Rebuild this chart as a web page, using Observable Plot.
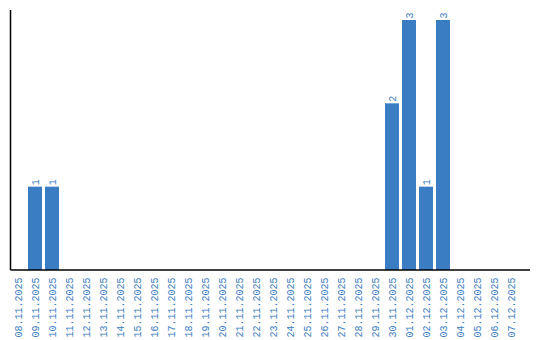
<!DOCTYPE html>
<html>
<head>
<meta charset="utf-8">
<script src="https://cdn.jsdelivr.net/npm/d3@7"></script>
<script src="https://cdn.jsdelivr.net/npm/@observablehq/plot@0.6"></script>
<style>
  html, body { margin: 0; padding: 0; background: #fff; }
  #chart svg { display: block; }
</style>
</head>
<body>
<div id="chart"></div>
<script>
const dates = [
  "08.11.2025","09.11.2025","10.11.2025","11.11.2025","12.11.2025","13.11.2025",
  "14.11.2025","15.11.2025","16.11.2025","17.11.2025","18.11.2025","19.11.2025",
  "20.11.2025","21.11.2025","22.11.2025","23.11.2025","24.11.2025","25.11.2025",
  "26.11.2025","27.11.2025","28.11.2025","29.11.2025","30.11.2025","01.12.2025",
  "02.12.2025","03.12.2025","04.12.2025","05.12.2025","06.12.2025","07.12.2025"
];
const counts = [
  0,1,1,0,0,0,
  0,0,0,0,0,0,
  0,0,0,0,0,0,
  0,0,0,0,2,3,
  1,3,0,0,0,0
];
const yMax = 3.12;

const data = dates.map((d, i) => ({date: d, count: counts[i]}));
const nonZero = data.filter(d => d.count > 0);

const blue = "#3b7dc3";
const font = "'Liberation Mono', 'DejaVu Sans Mono', monospace";

const axisLines = (index, scales, values, dims) => {
  const g = d3.create("svg:g");
  const x0 = dims.marginLeft - 0.5;
  const yb = dims.height - dims.marginBottom;
  g.append("line")
    .attr("x1", x0).attr("x2", x0)
    .attr("y1", dims.marginTop).attr("y2", yb)
    .attr("stroke", "#000").attr("stroke-width", 1.5);
  g.append("line")
    .attr("x1", x0).attr("x2", dims.width - dims.marginRight)
    .attr("y1", yb).attr("y2", yb)
    .attr("stroke", "#000").attr("stroke-width", 1.5);
  return g.node();
};

const chart = Plot.plot({
  width: 540,
  height: 340,
  marginTop: 10,
  marginBottom: 70,
  marginLeft: 11,
  marginRight: 10,
  style: {fontFamily: font, fontSize: "10px", background: "#fff"},
  x: {
    type: "band",
    domain: dates,
    paddingInner: 3 / 17,
    paddingOuter: 0.35294,
    align: 0,
    round: false,
    label: null
  },
  y: {domain: [0, yMax], axis: null},
  marks: [
    Plot.barY(data, {x: "date", y: "count", fill: blue}),
    Plot.text(nonZero, {
      x: "date", y: "count", text: d => String(d.count),
      rotate: -90, textAnchor: "start", dy: -2, fill: blue, fontSize: 10,
      fontFamily: font
    }),
    Plot.axisX({
      tickSize: 0, tickPadding: 7, tickRotate: -90,
      fill: blue, label: null, fontSize: 10, fontFamily: font
    }),
    axisLines
  ]
});

document.getElementById("chart").appendChild(chart);
</script>
</body>
</html>
